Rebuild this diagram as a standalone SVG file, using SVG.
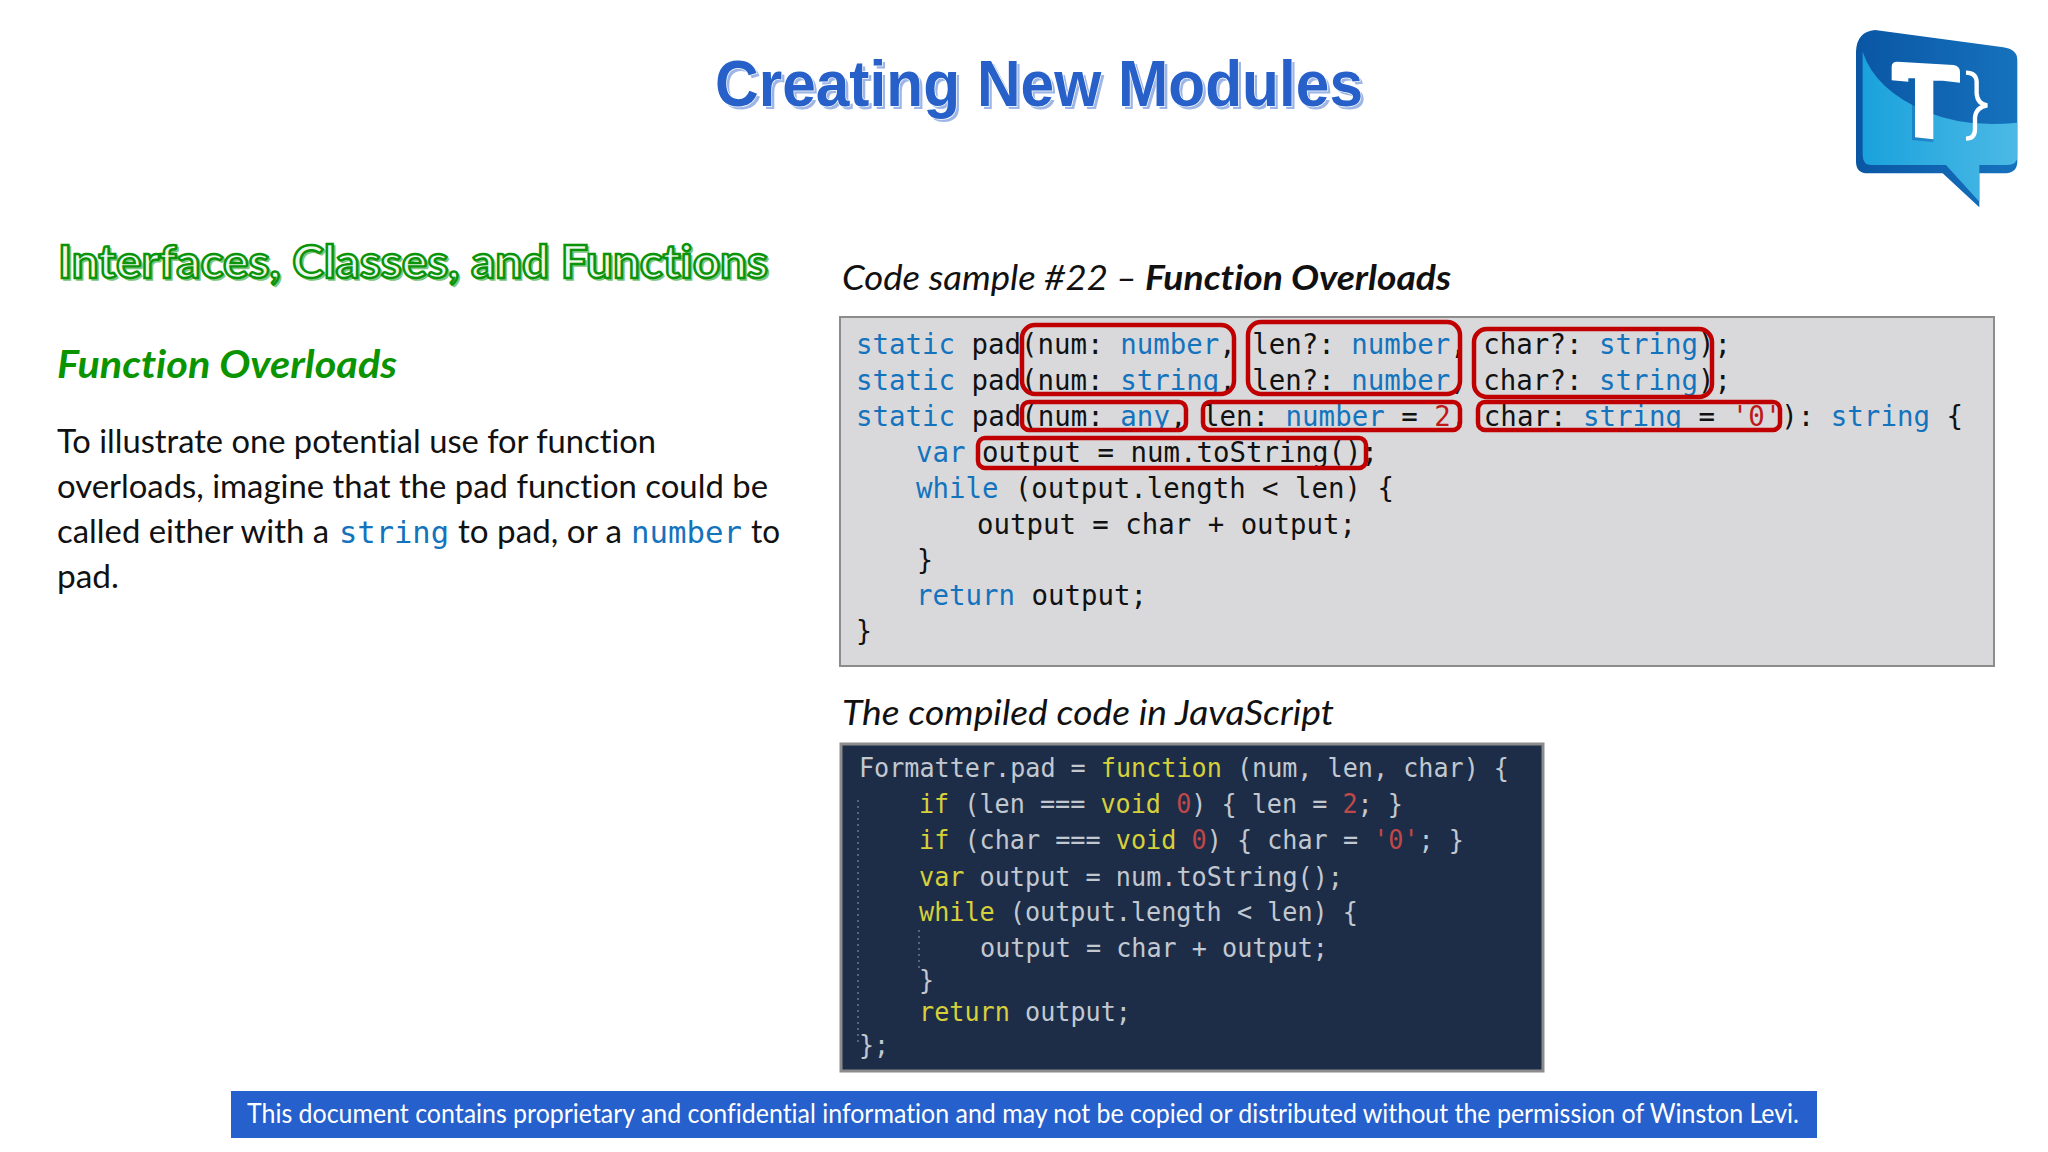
<svg xmlns="http://www.w3.org/2000/svg" width="2048" height="1152" viewBox="0 0 2048 1152">
<style>
text{white-space:pre;font-variant-ligatures:none}
.l{font-family:"Lato","Noto Sans",sans-serif}
.m{font-family:"DejaVu Sans Mono","Liberation Mono",monospace}
.c{font-size:28.5px;fill:#111}
.k{fill:#1473bd}
.n{fill:#c01818}
.d{font-size:26px;fill:#c2c8d0}
.y{fill:#d6d03a}
.r{fill:#c04848}
.b{font-size:33.5px;fill:#111}
.box{fill:none;stroke:#c00000;stroke-width:4.5}
.g{fill:none;stroke:#56657d;stroke-width:2;stroke-dasharray:2 4}
</style>
<defs>
<linearGradient id="dk" x1="0" x2="1" y1="0" y2="0"><stop offset="0" stop-color="#0a56a4"/><stop offset="1" stop-color="#1672bd"/></linearGradient>
<linearGradient id="lt" x1="0" x2="1" y1="0" y2="0"><stop offset="0" stop-color="#1aa2dc"/><stop offset="1" stop-color="#4cb9e5"/></linearGradient>
</defs>
<rect width="2048" height="1152" fill="#fff"/>
<g id="title" font-family="Liberation Sans,Arial,sans-serif" font-weight="700" font-size="64">
<text x="718" y="109" textLength="648" lengthAdjust="spacingAndGlyphs" fill="#9db6e6">Creating New Modules</text>
<text x="715" y="106" textLength="648" lengthAdjust="spacingAndGlyphs" fill="#2660c8" stroke="#fff" stroke-width="1.5" paint-order="stroke">Creating New Modules</text>
</g>
<g id="logo" transform="translate(1840,10) scale(.3333)">
<path fill="url(#dk)" d="M48 125Q50 65 105 60L490 112Q532 118 532 150V455Q532 490 490 490H418V592L308 490H85Q48 490 48 455Z"/>
<path fill="url(#lt)" d="M68 125Q105 240 260 305Q380 355 532 338V440Q532 465 500 465H418V575L318 465H95Q68 465 68 435Z"/>
<path fill="#0f5fae" d="M225 205L216 212V390L280 396V388Z" opacity=".5"/>
<path fill="#fff" d="M172 155L340 165Q360 168 360 185V218L308 212H280V388L225 382V205H205V215L155 211V170Q155 155 172 155Z"/>
<path fill="none" stroke="#fff" stroke-width="13" d="M378 188Q408 188 410 215V250Q412 282 442 286Q408 292 405 322V358Q405 386 378 386"/>
</g>
<g id="left">
<text class="l" x="60" y="280" font-size="45" font-weight="700" textLength="710" lengthAdjust="spacingAndGlyphs" fill="#7dc67d" stroke="#7dc67d" stroke-width="1.5">Interfaces, Classes, and Functions</text>
<text class="l" x="58" y="278" font-size="45" font-weight="700" textLength="710" lengthAdjust="spacingAndGlyphs" fill="#eef8ee" stroke="#0a940a" stroke-width="2.4">Interfaces, Classes, and Functions</text>
<text class="l" x="57" y="378" font-size="39" font-weight="700" font-style="italic" textLength="340" lengthAdjust="spacingAndGlyphs" fill="#0a9400">Function Overloads</text>
<text class="l b" x="57" y="453" textLength="599" lengthAdjust="spacingAndGlyphs">To illustrate one potential use for function</text>
<text class="l b" x="57" y="498" textLength="711" lengthAdjust="spacingAndGlyphs">overloads, imagine that the pad function could be</text>
<text class="l b" x="57" y="543" textLength="272" lengthAdjust="spacingAndGlyphs">called either with a</text>
<text class="m" x="339" y="543" font-size="31" fill="#1473bd" textLength="110" lengthAdjust="spacingAndGlyphs">string</text>
<text class="l b" x="458" y="543" textLength="164" lengthAdjust="spacingAndGlyphs">to pad, or a</text>
<text class="m" x="631" y="543" font-size="31" fill="#1473bd" textLength="111" lengthAdjust="spacingAndGlyphs">number</text>
<text class="l b" x="751" y="543" textLength="29" lengthAdjust="spacingAndGlyphs">to</text>
<text class="l b" x="57" y="588" textLength="62" lengthAdjust="spacingAndGlyphs">pad.</text>
</g>
<g id="code-sample">
<text class="l" x="842" y="290" font-size="35" font-style="italic" fill="#111" textLength="266" lengthAdjust="spacingAndGlyphs">Code sample #22</text>
<text class="l" x="1116" y="290" font-size="35" font-style="italic" fill="#111" textLength="21" lengthAdjust="spacingAndGlyphs">–</text>
<text class="l" x="1145" y="290" font-size="35" font-weight="700" font-style="italic" fill="#111" textLength="306" lengthAdjust="spacingAndGlyphs">Function Overloads</text>
<rect x="840" y="317" width="1154" height="349" fill="#d9d9dc" stroke="#8c8c8c" stroke-width="2"/>
<g class="m c">
<text x="856" y="354" textLength="875" lengthAdjust="spacingAndGlyphs"><tspan class="k">static</tspan> pad(num: <tspan class="k">number</tspan>, len?: <tspan class="k">number</tspan>, char?: <tspan class="k">string</tspan>);</text>
<text x="856" y="390" textLength="875" lengthAdjust="spacingAndGlyphs"><tspan class="k">static</tspan> pad(num: <tspan class="k">string</tspan>, len?: <tspan class="k">number</tspan>, char?: <tspan class="k">string</tspan>);</text>
<text x="856" y="426" textLength="1107" lengthAdjust="spacingAndGlyphs"><tspan class="k">static</tspan> pad(num: <tspan class="k">any</tspan>, len: <tspan class="k">number</tspan> = <tspan class="n">2</tspan>, char: <tspan class="k">string</tspan> = <tspan class="n">'0'</tspan>): <tspan class="k">string</tspan> {</text>
<text x="916" y="462" textLength="462" lengthAdjust="spacingAndGlyphs"><tspan class="k">var</tspan> output = num.toString();</text>
<text x="916" y="498" textLength="478" lengthAdjust="spacingAndGlyphs"><tspan class="k">while</tspan> (output.length &lt; len) {</text>
<text x="977" y="534" textLength="379" lengthAdjust="spacingAndGlyphs">output = char + output;</text>
<text x="917" y="570" textLength="16" lengthAdjust="spacingAndGlyphs">}</text>
<text x="916" y="605" textLength="231" lengthAdjust="spacingAndGlyphs"><tspan class="k">return</tspan> output;</text>
<text x="856" y="641" textLength="16" lengthAdjust="spacingAndGlyphs">}</text>
</g>
<rect class="box" x="1022" y="325" width="212" height="69" rx="13"/>
<rect class="box" x="1248" y="322" width="212" height="72" rx="13"/>
<rect class="box" x="1474" y="329" width="238" height="68" rx="13"/>
<rect class="box" x="1022" y="402" width="164" height="28" rx="7"/>
<rect class="box" x="1203" y="402" width="257" height="28" rx="7"/>
<rect class="box" x="1478" y="402" width="302" height="28" rx="7"/>
<rect class="box" x="978" y="438" width="388" height="30" rx="7"/>
</g>
<g id="compiled-code">
<text class="l" x="842" y="725" font-size="35" font-style="italic" fill="#111" textLength="492" lengthAdjust="spacingAndGlyphs">The compiled code in JavaScript</text>
<rect x="841" y="744" width="702" height="327" fill="#1d2d48" stroke="#8c8c8c" stroke-width="3"/>
<path class="g" d="M858 800V1042M919 930V968"/>
<g class="m d">
<text x="859" y="777" textLength="650" lengthAdjust="spacingAndGlyphs">Formatter.pad = <tspan class="y">function</tspan> (num, len, char) {</text>
<text x="919" y="813" textLength="484" lengthAdjust="spacingAndGlyphs"><tspan class="y">if</tspan> (len === <tspan class="y">void</tspan> <tspan class="r">0</tspan>) { len = <tspan class="r">2</tspan>; }</text>
<text x="919" y="849" textLength="545" lengthAdjust="spacingAndGlyphs"><tspan class="y">if</tspan> (char === <tspan class="y">void</tspan> <tspan class="r">0</tspan>) { char = <tspan class="r">'0'</tspan>; }</text>
<text x="919" y="886" textLength="424" lengthAdjust="spacingAndGlyphs"><tspan class="y">var</tspan> output = num.toString();</text>
<text x="919" y="921" textLength="439" lengthAdjust="spacingAndGlyphs"><tspan class="y">while</tspan> (output.length &lt; len) {</text>
<text x="980" y="957" textLength="348" lengthAdjust="spacingAndGlyphs">output = char + output;</text>
<text x="919" y="989" textLength="15" lengthAdjust="spacingAndGlyphs">}</text>
<text x="919" y="1021" textLength="212" lengthAdjust="spacingAndGlyphs"><tspan class="y">return</tspan> output;</text>
<text x="859" y="1054" textLength="30" lengthAdjust="spacingAndGlyphs">};</text>
</g>
</g>
<g id="footer">
<rect x="231" y="1091" width="1586" height="47" fill="#2560cc"/>
<text class="l" x="247" y="1123" font-size="26" fill="#fff" textLength="1552" lengthAdjust="spacingAndGlyphs">This document contains proprietary and confidential information and may not be copied or distributed without the permission of Winston Levi.</text>
</g>
</svg>
